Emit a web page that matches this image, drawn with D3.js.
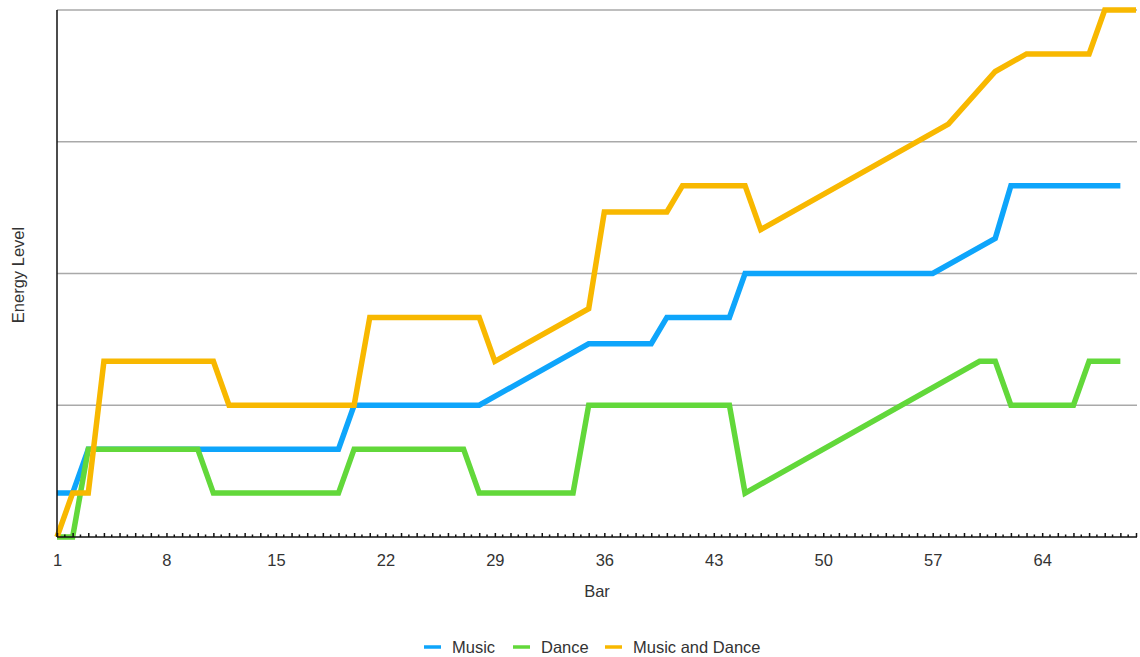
<!DOCTYPE html>
<html>
<head>
<meta charset="utf-8">
<script src="https://cdn.jsdelivr.net/npm/d3@7"></script>
<style>
  html, body { margin: 0; padding: 0; background: #fff; }
  svg text { font-family: "Liberation Sans", Arial, Helvetica, sans-serif; fill: #333; }
</style>
</head>
<body>
<svg id="chart" width="1140" height="657"></svg>
<script>
// Bar numbers along the x axis
const bars = d3.range(1, 71);
const tickLabels = [1, 8, 15, 22, 29, 36, 43, 50, 57, 64];
const gridValues = [3, 6, 9, 12];

// Energy level per bar (null = no reading, line runs straight through)
const music = [
  1, 1, 2, 2, 2, 2, 2, 2, 2, 2,
  2, 2, 2, 2, 2, 2, 2, 2, 2, 3,
  3, 3, 3, 3, 3, 3, 3, 3, null, null,
  null, null, null, null, 4.4, 4.4, 4.4, 4.4, 4.4, 5,
  5, 5, 5, 5, 6, 6, 6, 6, 6, 6,
  6, 6, 6, 6, 6, 6, 6, null, null, null,
  6.8, 8, 8, 8, 8, 8, 8, 8, 8, null
];
const dance = [
  0, 0, 2, 2, 2, 2, 2, 2, 2, 2,
  1, 1, 1, 1, 1, 1, 1, 1, 1, 2,
  2, 2, 2, 2, 2, 2, 2, 1, 1, 1,
  1, 1, 1, 1, 3, 3, 3, 3, 3, 3,
  3, 3, 3, 3, 1, null, null, null, null, null,
  null, null, null, null, null, null, null, null, null, 4,
  4, 3, 3, 3, 3, 3, 4, 4, 4, null
];
const musicAndDance = [
  0, 1, 1, 4, 4, 4, 4, 4, 4, 4,
  4, 3, 3, 3, 3, 3, 3, 3, 3, 3,
  5, 5, 5, 5, 5, 5, 5, 5, 4, null,
  null, null, null, null, 5.2, 7.4, 7.4, 7.4, 7.4, 7.4,
  8, 8, 8, 8, 8, 7, null, null, null, null,
  null, null, null, null, null, null, null, 9.4, null, null,
  10.6, null, 11, 11, 11, 11, 11, 12, 12, 12
];

const seriesNames = ["Music", "Dance", "Music and Dance"];
const seriesColors = ["#0ea5fb", "#62d83a", "#f8b800"];
const seriesValues = [music, dance, musicAndDance];

const svg = d3.select("#chart");
const plotLeft = 57, plotRight = 1137, plotTop = 10, plotBottom = 537;
const fontSize = 16.5;

const x = d3.scaleLinear().domain([1, 70]).range([plotLeft, 1136]);
const y = d3.scaleLinear().domain([0, 12]).range([plotBottom, plotTop]);

// Horizontal gridlines
svg.append("g")
  .selectAll("line")
  .data(gridValues)
  .join("line")
  .attr("x1", plotLeft).attr("x2", plotRight)
  .attr("y1", d => y(d)).attr("y2", d => y(d))
  .attr("stroke", "#a9a9a9")
  .attr("stroke-width", 1.5);

// Lines
const line = d3.line()
  .x(d => x(d.bar))
  .y(d => y(d.value));

seriesValues.forEach((vals, i) => {
  const pts = bars.map((b, j) => ({ bar: b, value: vals[j] }))
    .filter(d => d.value !== null && d.value !== undefined);
  svg.append("path")
    .datum(pts)
    .attr("d", line)
    .attr("fill", "none")
    .attr("stroke", seriesColors[i])
    .attr("stroke-width", 5.5)
    .attr("stroke-linejoin", "miter")
    .attr("stroke-miterlimit", 3);
});

// Minor ticks halfway between bars
svg.append("g")
  .selectAll("line")
  .data(bars.slice(0, -1).map(b => b + 0.5))
  .join("line")
  .attr("x1", d => x(d)).attr("x2", d => x(d))
  .attr("y1", plotBottom).attr("y2", plotBottom - 2.5)
  .attr("stroke", "#111")
  .attr("stroke-width", 1.5);

// X axis with a tick at every bar, labels every seventh bar
const xAxis = d3.axisBottom(x)
  .tickValues(bars)
  .tickSizeInner(-4)
  .tickSizeOuter(0)
  .tickPadding(17)
  .tickFormat(d => tickLabels.includes(d) ? String(d) : "");

const gx = svg.append("g")
  .attr("transform", `translate(0,${plotBottom})`)
  .call(xAxis);
gx.select(".domain").remove();
gx.selectAll(".tick line").attr("stroke", "#111").attr("stroke-width", 1.5);
gx.selectAll(".tick text")
  .attr("font-size", fontSize)
  .attr("fill", "#333")
  .style("font-family", '"Liberation Sans", Arial, sans-serif');

// Axis lines
svg.append("line")
  .attr("x1", plotLeft).attr("x2", plotRight)
  .attr("y1", plotBottom).attr("y2", plotBottom)
  .attr("stroke", "#111").attr("stroke-width", 1.5);
svg.append("line")
  .attr("x1", plotLeft).attr("x2", plotLeft)
  .attr("y1", plotTop).attr("y2", plotBottom)
  .attr("stroke", "#111").attr("stroke-width", 1.5);

// Axis titles
svg.append("text")
  .attr("x", 597).attr("y", 597)
  .attr("text-anchor", "middle")
  .attr("font-size", fontSize)
  .text("Bar");
svg.append("text")
  .attr("transform", "translate(23.5,275) rotate(-90)")
  .attr("text-anchor", "middle")
  .attr("font-size", fontSize)
  .text("Energy Level");

// Legend
const legendX = [424, 513, 605];
const legend = svg.append("g");
seriesNames.forEach((name, i) => {
  legend.append("line")
    .attr("x1", legendX[i]).attr("x2", legendX[i] + 17)
    .attr("y1", 647).attr("y2", 647)
    .attr("stroke", seriesColors[i])
    .attr("stroke-width", 3.5);
  legend.append("text")
    .attr("x", legendX[i] + 28).attr("y", 653)
    .attr("font-size", fontSize)
    .text(name);
});
</script>
</body>
</html>
